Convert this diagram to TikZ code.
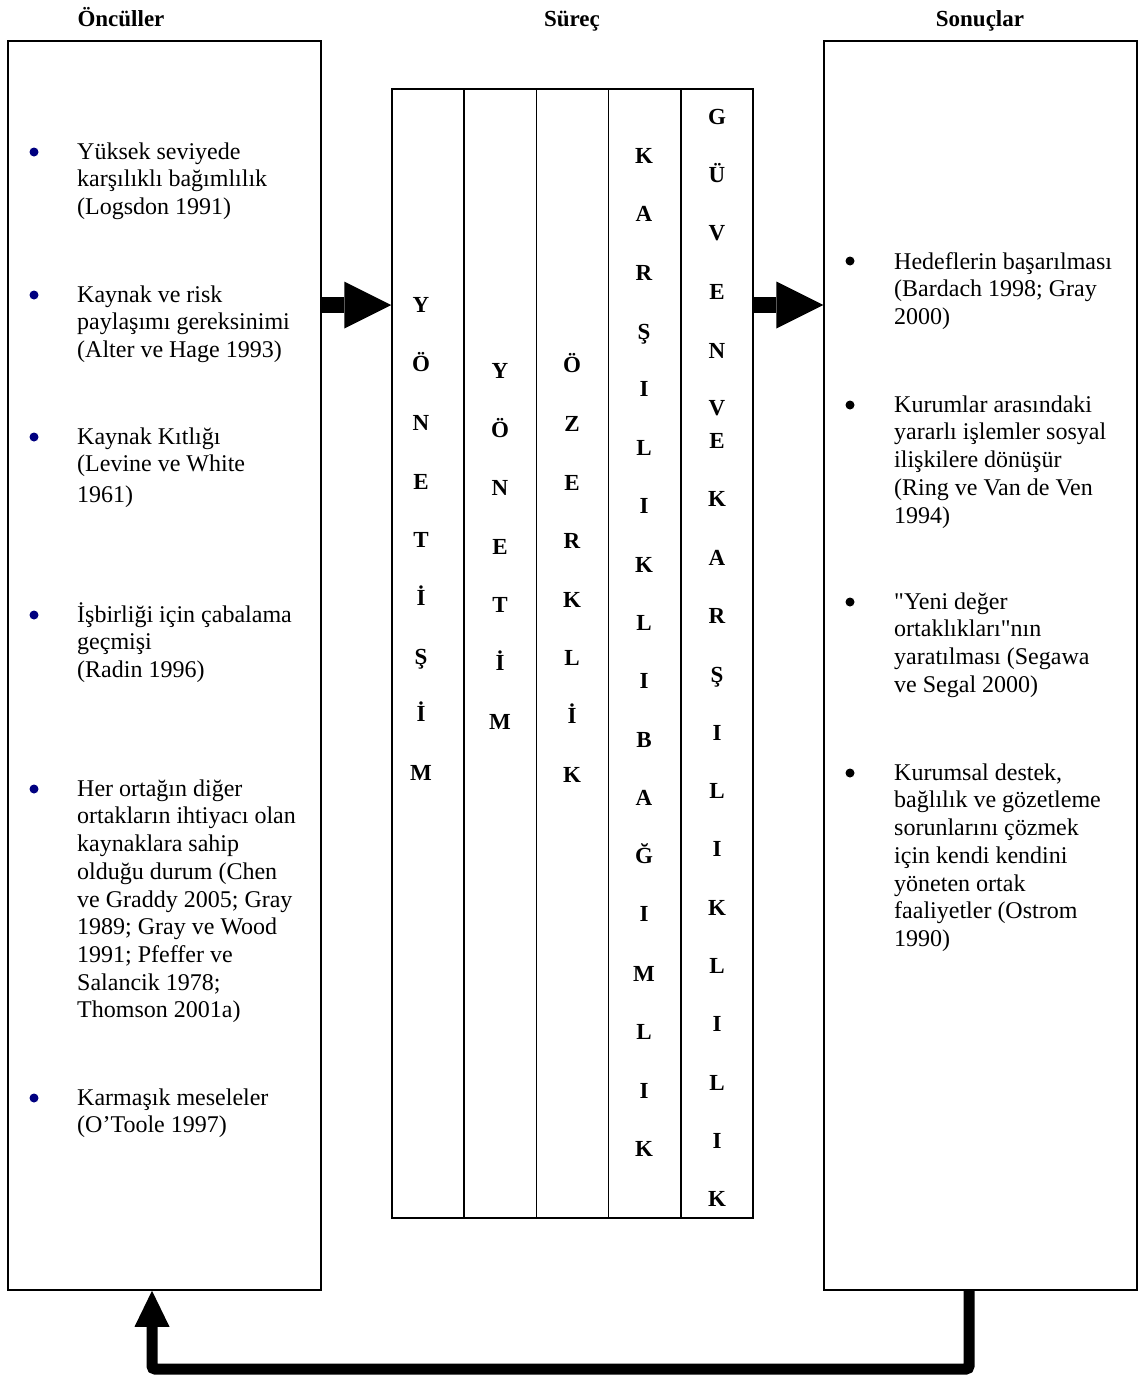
\documentclass[tikz,border=0pt]{standalone}
\usepackage{fontspec}
\setmainfont{Liberation Serif}[Ligatures=TeXOff]
\usetikzlibrary{arrows.meta}
\definecolor{bulletnavy}{HTML}{000080}
\newcommand\tallstrut{\rule{0pt}{24pt}}
\begin{document}
\begin{tikzpicture}[x=1pt,y=-1pt,
  sidepanel/.style={draw, line width=1.5pt, inner sep=0pt, minimum width=313pt, minimum height=1249pt},
  colbox/.style={draw, line width=1.5pt, inner sep=0pt, minimum width=72.2pt, minimum height=1129pt},
  heading/.style={font=\fontsize{23}{26}\selectfont\bfseries, anchor=base, inner sep=0pt},
  vletter/.style={font=\fontsize{23}{26}\selectfont\bfseries, anchor=base, inner sep=0pt},
  itemtext/.style={font=\fontsize{24}{27.7}\selectfont, align=left, anchor=north west, inner sep=0pt},
  bulletdot/.style={circle, fill=#1, inner sep=0pt, minimum size=9pt},
  bigarrow/.style={line width=16pt, -{Triangle[length=47pt,width=47pt,line width=0pt]}},
  backarrow/.style={line width=11pt, rounded corners=3pt, -{Triangle[length=36pt,width=35pt,line width=0pt]}},
]
\useasboundingbox (0,0) rectangle (1139,1376);

% headings
\node[heading] (h1) at (121,26) {Öncüller};
\node[heading] (h2) at (572,26) {Süreç};
\node[heading] (h3) at (980,26) {Sonuçlar};

% side panels
\node[sidepanel] (left)  at (164.5,665.5) {};
\node[sidepanel] (right) at (980.5,665.5) {};

% process columns
\node[colbox] (col1) at (428.1,653.5) {};
\node[colbox] (col2) at (500.3,653.5) {};
\node[colbox] (col3) at (572.5,653.5) {};
\node[colbox] (col4) at (644.7,653.5) {};
\node[colbox] (col5) at (716.9,653.5) {};

% vertical words
\foreach \ch/\yy [count=\i] in {Y/303,Ö/362,N/421,E/480,T/538,İ/596,Ş/655,İ/712,M/771}
  \node[vletter] (a\i) at (421,\yy+9) {\ch};
\foreach \ch/\yy [count=\i] in {Y/369,Ö/428,N/486,E/545,T/603,İ/661,M/720}
  \node[vletter] (b\i) at (500,\yy+9) {\ch};
\foreach \ch/\yy [count=\i] in {Ö/363,Z/422,E/481,R/539,K/598,L/656,İ/714,K/773}
  \node[vletter] (c\i) at (572,\yy+9) {\ch};
\foreach \ch/\yy [count=\i] in {K/154,A/212,R/271,Ş/330,I/387,L/446,I/504,K/563,L/621,I/679,B/738,A/796,Ğ/854,I/912,M/972,L/1030,I/1089,K/1147}
  \node[vletter] (d\i) at (644,\yy+9) {\ch};
\foreach \ch/\yy [count=\i] in {G/115,Ü/173,V/231,E/290,N/349,V/406,E/439,K/497,A/556,R/614,Ş/673,I/731,L/789,I/847,K/906,L/964,I/1022,L/1081,I/1139,K/1197}
  \node[vletter] (e\i) at (717,\yy+9) {\ch};

% antecedents
\node[bulletdot=bulletnavy] (lb1) at (34,152) {};
\node[itemtext] (lt1) at (77,135) {\tallstrut Yüksek seviyede\\karşılıklı bağımlılık\\(Logsdon 1991)};
\node[bulletdot=bulletnavy] (lb2) at (34,295) {};
\node[itemtext] (lt2) at (77,278) {\tallstrut Kaynak ve risk\\paylaşımı gereksinimi\\(Alter ve Hage 1993)};
\node[bulletdot=bulletnavy] (lb3) at (34,437) {};
\node[itemtext] (lt3) at (77,420) {\tallstrut Kaynak Kıtlığı\\(Levine ve White\\[3pt]1961)};
\node[bulletdot=bulletnavy] (lb4) at (34,615) {};
\node[itemtext] (lt4) at (77,598) {\tallstrut İşbirliği için çabalama\\geçmişi\\(Radin 1996)};
\node[bulletdot=bulletnavy] (lb5) at (34,789) {};
\node[itemtext] (lt5) at (77,772) {\tallstrut Her ortağın diğer\\ortakların ihtiyacı olan\\kaynaklara sahip\\olduğu durum (Chen\\ve Graddy 2005; Gray\\1989; Gray ve Wood\\1991; Pfeffer ve\\Salancik 1978;\\Thomson 2001a)};
\node[bulletdot=bulletnavy] (lb6) at (34,1098) {};
\node[itemtext] (lt6) at (77,1081) {\tallstrut Karmaşık meseleler\\(O’Toole 1997)};

% outcomes
\node[bulletdot=black] (rb1) at (850,261) {};
\node[itemtext] (rt1) at (894,245) {\tallstrut Hedeflerin başarılması\\(Bardach 1998; Gray\\2000)};
\node[bulletdot=black] (rb2) at (850,405) {};
\node[itemtext] (rt2) at (894,388) {\tallstrut Kurumlar arasındaki\\yararlı işlemler sosyal\\ilişkilere dönüşür\\(Ring ve Van de Ven\\1994)};
\node[bulletdot=black] (rb3) at (850,602) {};
\node[itemtext] (rt3) at (894,585) {\tallstrut "Yeni değer\\ortaklıkları"nın\\yaratılması (Segawa\\ve Segal 2000)};
\node[bulletdot=black] (rb4) at (850,773) {};
\node[itemtext] (rt4) at (894,756) {\tallstrut Kurumsal destek,\\bağlılık ve gözetleme\\sorunlarını çözmek\\için kendi kendini\\yöneten ortak\\faaliyetler (Ostrom\\1990)};

% flow arrows
\coordinate (arrowrow) at (0,305);
\draw[bigarrow] (left.east |- arrowrow) -- (col1.west |- arrowrow);
\draw[bigarrow] (col5.east |- arrowrow) -- (right.west |- arrowrow);

% feedback loop
\coordinate (fbright) at (969,1369);
\coordinate (fbleft) at (152,1369);
\draw[backarrow] (right.south -| fbright) -- (fbright) -- (fbleft) -- (left.south -| fbleft);
\end{tikzpicture}
\end{document}
